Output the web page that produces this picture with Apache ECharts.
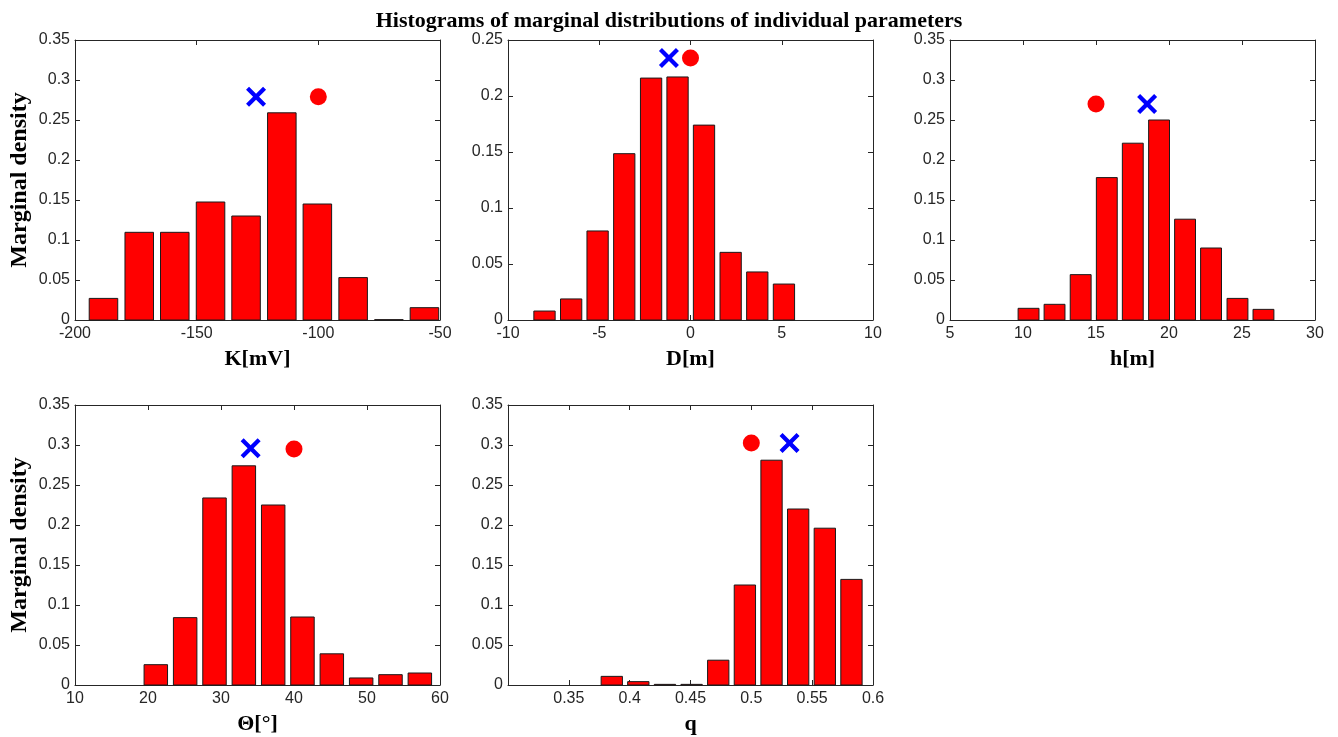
<!DOCTYPE html>
<html>
<head>
<meta charset="utf-8">
<script src="https://cdn.jsdelivr.net/npm/echarts@6/dist/echarts.min.js"></script>
<style>
html,body{margin:0;padding:0;background:#fff;}
#chart{width:1338px;height:737px;}
</style>
</head>
<body>
<div id="chart"></div>
<script>
// ---- Data ----
const titleText = 'Histograms of marginal distributions of individual parameters';
const yAxisName = 'Marginal density';

// K [mV]
const kCenters = [-188.3, -173.6, -159.0, -144.3, -129.7, -115.0, -100.4, -85.7, -71.0, -56.4];
const kDensity = [0.027, 0.1096, 0.1096, 0.1475, 0.130, 0.259, 0.145, 0.053, 0.0004, 0.0154];
const kCross = [-125.6, 0.279];
const kCircle = [-100.0, 0.279];

// D [m]
const dCenters = [-8.0, -6.54, -5.09, -3.63, -2.16, -0.71, 0.74, 2.20, 3.66, 5.12];
const dDensity = [0.008, 0.0188, 0.0795, 0.1485, 0.216, 0.217, 0.174, 0.0604, 0.0429, 0.0321];
const dCross = [-1.18, 0.234];
const dCircle = [0.0, 0.234];

// h [m]
const hCenters = [10.38, 12.16, 13.95, 15.74, 17.52, 19.32, 21.10, 22.88, 24.69, 26.47];
const hDensity = [0.0146, 0.0196, 0.0567, 0.178, 0.221, 0.250, 0.126, 0.090, 0.027, 0.0133];
const hCross = [18.5, 0.27];
const hCircle = [15.0, 0.27];

// Theta [deg]
const tCenters = [21.07, 25.09, 29.11, 33.13, 37.15, 41.16, 45.18, 49.20, 53.22, 57.24];
const tDensity = [0.0254, 0.0842, 0.2338, 0.274, 0.225, 0.085, 0.039, 0.0088, 0.0129, 0.015];
const tCross = [34.06, 0.296];
const tCircle = [40.0, 0.295];

// q
const qCenters = [0.3853, 0.4071, 0.4290, 0.4509, 0.4728, 0.4947, 0.5166, 0.5385, 0.5604, 0.5823];
const qDensity = [0.0108, 0.0042, 0.0008, 0.0008, 0.031, 0.125, 0.281, 0.220, 0.196, 0.132];
const qCross = [0.5314, 0.3025];
const qCircle = [0.5, 0.3025];

// axis settings
const xNames = ['K[mV]', 'D[m]', 'h[m]', 'Θ[°]', 'q'];
const xMins = [-200, -10, 5, 10, 0.3];
const xMaxs = [-50, 10, 30, 60, 0.6];
const xIntervals = [50, 5, 5, 10, 0.05];
const yMaxs = [0.35, 0.25, 0.35, 0.35, 0.35];
const yInterval = 0.05;

const panels = [
  {c: kCenters, v: kDensity, x: kCross, o: kCircle},
  {c: dCenters, v: dDensity, x: dCross, o: dCircle},
  {c: hCenters, v: hDensity, x: hCross, o: hCircle},
  {c: tCenters, v: tDensity, x: tCross, o: tCircle},
  {c: qCenters, v: qDensity, x: qCross, o: qCircle}
];

// ---- Layout ----
const gridPos = [
  {left: 75, top: 40}, {left: 508, top: 40}, {left: 950, top: 40},
  {left: 75, top: 405}, {left: 508, top: 405}
];
const GW = 365, GH = 280;
const axisColor = '#262626';
const crossPath = 'path://M0,1.5L1.5,0L5,3.5L8.5,0L10,1.5L6.5,5L10,8.5L8.5,10L5,6.5L1.5,10L0,8.5L3.5,5Z';

const grids = [], xAxes = [], yAxes = [], series = [];

panels.forEach((p, i) => {
  grids.push({left: gridPos[i].left, top: gridPos[i].top, width: GW, height: GH, show: false});
  const common = {
    gridIndex: i, type: 'value', splitLine: {show: false},
    axisLine: {show: true, onZero: false, lineStyle: {color: axisColor, width: 1}},
    axisTick: {show: true, inside: true, length: 5, lineStyle: {color: axisColor}}
  };
  xAxes.push(Object.assign({}, common, {
    position: 'bottom', min: xMins[i], max: xMaxs[i], interval: xIntervals[i],
    axisLabel: {fontSize: 16, color: axisColor, fontFamily: 'Liberation Sans', margin: 6,
      showMinLabel: i !== 4},
    name: xNames[i], nameLocation: 'middle', nameGap: 28,
    nameTextStyle: {fontFamily: 'Liberation Serif', fontWeight: 'bold', fontSize: 22, color: '#000'}
  }));
  xAxes.push(Object.assign({}, common, {
    position: 'top', min: xMins[i], max: xMaxs[i], interval: xIntervals[i],
    axisLabel: {show: false}
  }));
  const yLeft = Object.assign({}, common, {
    position: 'left', min: 0, max: yMaxs[i], interval: yInterval,
    axisLabel: {fontSize: 16, color: axisColor, fontFamily: 'Liberation Sans', margin: 5}
  });
  if (i === 0 || i === 3) {
    Object.assign(yLeft, {
      name: yAxisName, nameLocation: 'middle', nameGap: 43,
      nameTextStyle: {fontFamily: 'Liberation Serif', fontWeight: 'bold', fontSize: 24, color: '#000'}
    });
  }
  yAxes.push(yLeft);
  yAxes.push(Object.assign({}, common, {
    position: 'right', min: 0, max: yMaxs[i], interval: yInterval,
    axisLabel: {show: false}
  }));

  const binW = (p.c[p.c.length - 1] - p.c[0]) / (p.c.length - 1);
  const barW = binW * 0.8;
  series.push({
    type: 'custom', xAxisIndex: 2 * i, yAxisIndex: 2 * i, z: 3,
    data: p.c.map((c, k) => [c, p.v[k]]),
    renderItem: function (params, api) {
      const x = api.value(0), y = api.value(1);
      const a = api.coord([x - barW / 2, y]);
      const b = api.coord([x + barW / 2, 0]);
      return {
        type: 'rect',
        shape: {x: a[0], y: a[1], width: b[0] - a[0], height: b[1] - a[1]},
        style: {fill: '#ff0000', stroke: '#1a1a1a', lineWidth: 1}
      };
    }
  });
  series.push({
    type: 'scatter', xAxisIndex: 2 * i, yAxisIndex: 2 * i, z: 4,
    symbol: crossPath, symbolSize: 20, itemStyle: {color: '#0000ff', opacity: 1},
    data: [p.x]
  });
  series.push({
    type: 'scatter', xAxisIndex: 2 * i, yAxisIndex: 2 * i, z: 4,
    symbol: 'circle', symbolSize: 17, itemStyle: {color: '#ff0000', opacity: 1},
    data: [p.o]
  });
});

const chart = echarts.init(document.getElementById('chart'), null, {renderer: 'canvas'});
chart.setOption({
  animation: false,
  backgroundColor: '#ffffff',
  title: {
    text: titleText, left: 'center', top: 5,
    textStyle: {fontFamily: 'Liberation Serif', fontWeight: 'bold', fontSize: 22, color: '#000'}
  },
  grid: grids, xAxis: xAxes, yAxis: yAxes, series: series
});
</script>
</body>
</html>
